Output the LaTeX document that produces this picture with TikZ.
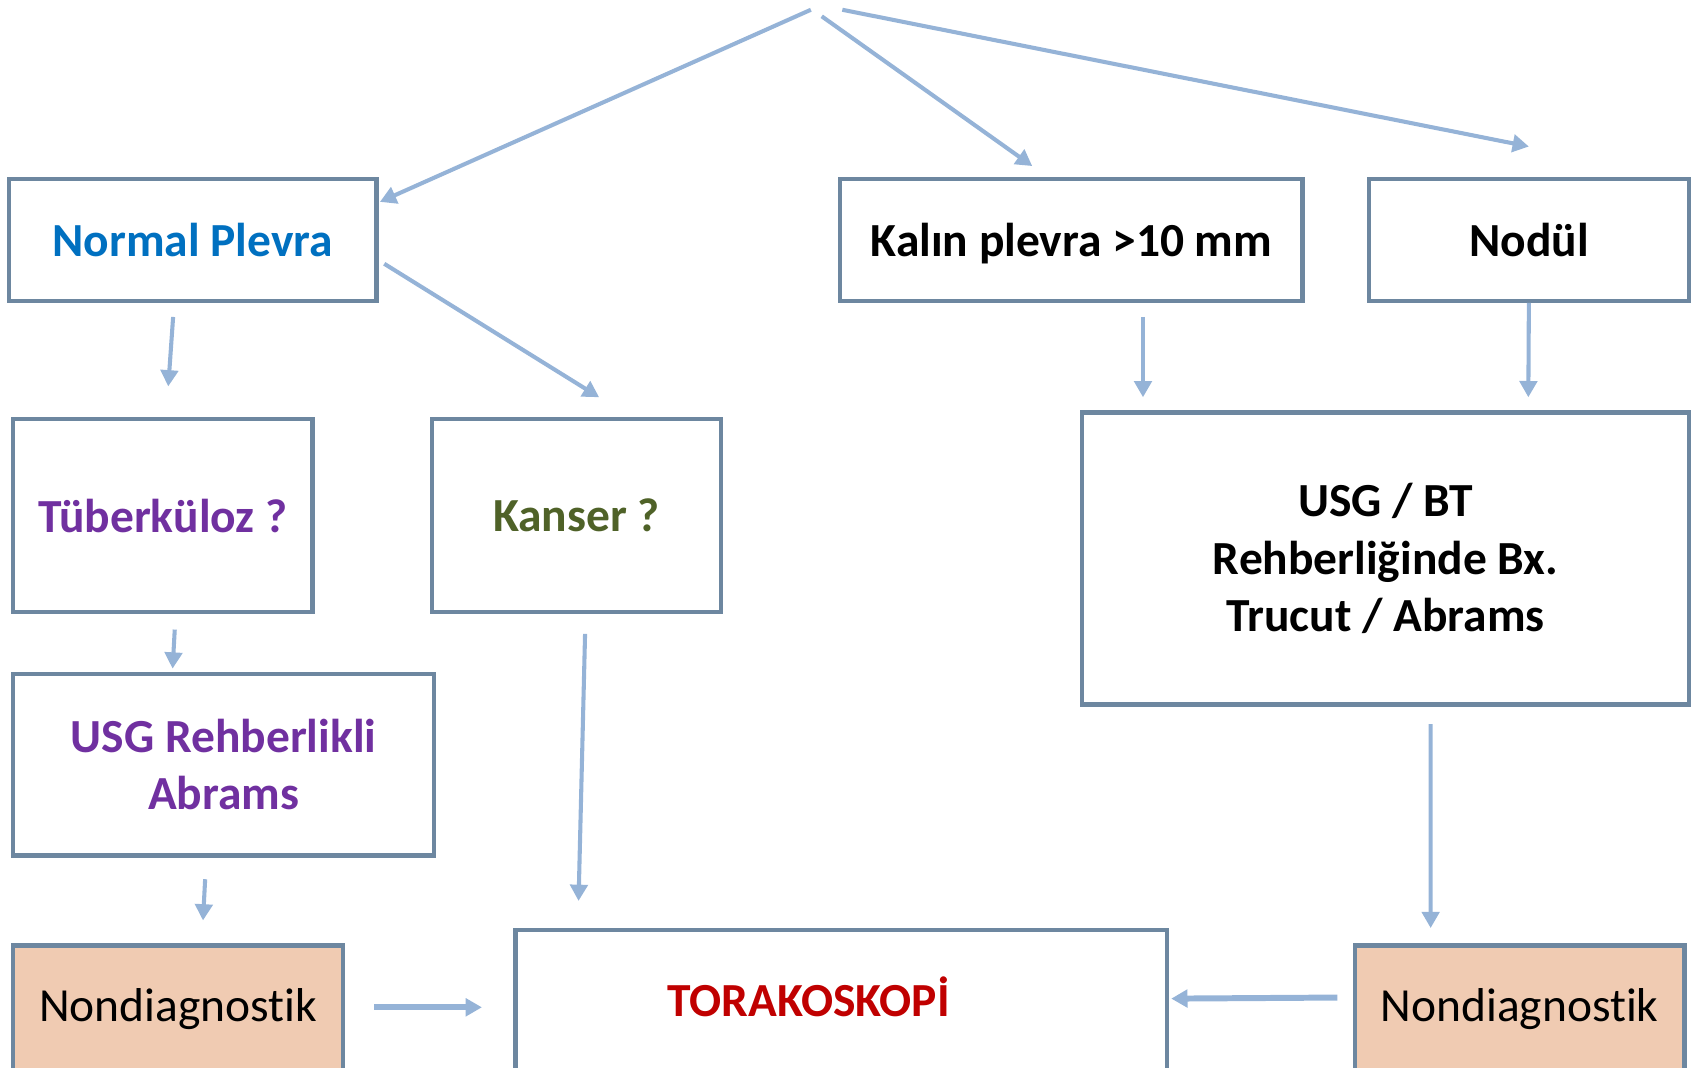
\documentclass[tikz,border=0pt]{standalone}
\usepackage{fontspec}
\setmainfont{Carlito}[Ligatures=NoCommon]
\usetikzlibrary{arrows.meta,calc}

\definecolor{bordc}{RGB}{109,135,160}
\definecolor{arrc}{RGB}{149,179,215}
\definecolor{peach}{RGB}{240,203,178}
\definecolor{npblue}{RGB}{0,112,192}
\definecolor{tbpurple}{RGB}{112,48,160}
\definecolor{knolive}{RGB}{79,98,40}
\definecolor{trred}{RGB}{192,0,0}
\newcommand{\flowfont}{\fontsize{24.9}{30.2}\selectfont}

\begin{document}
\begin{tikzpicture}[
  x=0.02cm, y=-0.02cm,
  box/.style={draw=bordc, line width=0.08cm, fill=white, align=center,
              inner sep=0pt, font=\flowfont\bfseries},
  ndx/.style={box, fill=peach, font=\flowfont},
  sz/.style 2 args={minimum width=#1*0.02cm, minimum height=#2*0.02cm},
  ar/.style={draw=arrc, line width=0.075cm, -{Triangle[length=3mm,width=3.2mm]}},
  arw/.style={ar, line width=0.11cm}]

\useasboundingbox (0,0) rectangle (1568,983);
\clip (0,0) rectangle (1568,983);

% first row
\node[box, sz={339}{112}, text=npblue] (np)  at (177.5,221) {Normal Plevra};
\node[box, sz={426}{112}, text depth=0pt] (kal) at (987,221) {Kalın plevra >10 mm};
\node[box, sz={295}{112}]              (nod) at (1408.5,221) {Nodül};

% second row
\node[box, sz={276}{178}, text=tbpurple] (tub) at (150,475) {Tüberküloz ?};
\node[box, sz={266}{178}, text=knolive]  (kan) at (531,475) {Kanser ?};
\node[box, sz={559}{269}] (usgbt) at (1276.5,514.5)
  {USG / BT\\Rehberliğinde Bx.\\Trucut / Abrams};
\node[box, sz={388}{167}, text=tbpurple] (usgr) at (206,704.5)
  {USG Rehberlikli\\Abrams};

% bottom row (cut by the page edge)
\node[ndx, sz={304}{118}] (nd1) at (164,930)  {Nondiagnostik};
\node[ndx, sz={304}{118}] (nd2) at (1400,930) {Nondiagnostik};
\node[box, sz={600}{150}] (tor) at (775,932) {};
\node[font=\flowfont\bfseries, text=trred] (tortxt) at (745,918) {TORAKOSKOPİ};

% top fan
\coordinate (s1) at (747,9);
\coordinate (s2) at (757,15);
\coordinate (s3) at (776,9);
\draw[ar] (s1) -- ($(np.east)+(1,-35)$);
\draw[ar] (s2) -- ($(kal.north)+(-36,-10)$);
\draw[ar] (s3) -- ($(nod.north)+(0,-28)$);

% left branch
\draw[ar] ($(np.south)+(-18,13)$) -- ($(tub.north)+(5,-28)$);
\draw[ar] ($(np.east)+(5,22)$) -- ($(kan.north)+(21,-18)$);
\draw[ar] ($(tub.south)+(11,14)$) -- ($(usgr.north)+(-47,-3)$);
\draw[ar] ($(kan.south)+(8,18)$) -- ($(tor.north west)+(60,-25)$);
\draw[ar] ($(usgr.south)+(-17,20)$) -- ($(nd1.north)+(23,-21)$);
\draw[arw] ($(nd1.east)+(27,-2)$) -- ($(tor.west)+(-29,-4)$);

% right branch
\draw[ar] ($(kal.south)+(66,13)$) -- ($(usgbt.north)+(-223.5,-12)$);
\draw[ar] (nod.south) -- ($(usgbt.north)+(131.5,-12)$);
\draw[ar] ($(usgbt.south)+(41.5,16)$) -- ($(nd2.north)+(-82,-14)$);
\draw[arw] ($(nd2.west)+(-14,-11)$) -- ($(tor.east)+(2,-12)$);
\end{tikzpicture}
\end{document}
